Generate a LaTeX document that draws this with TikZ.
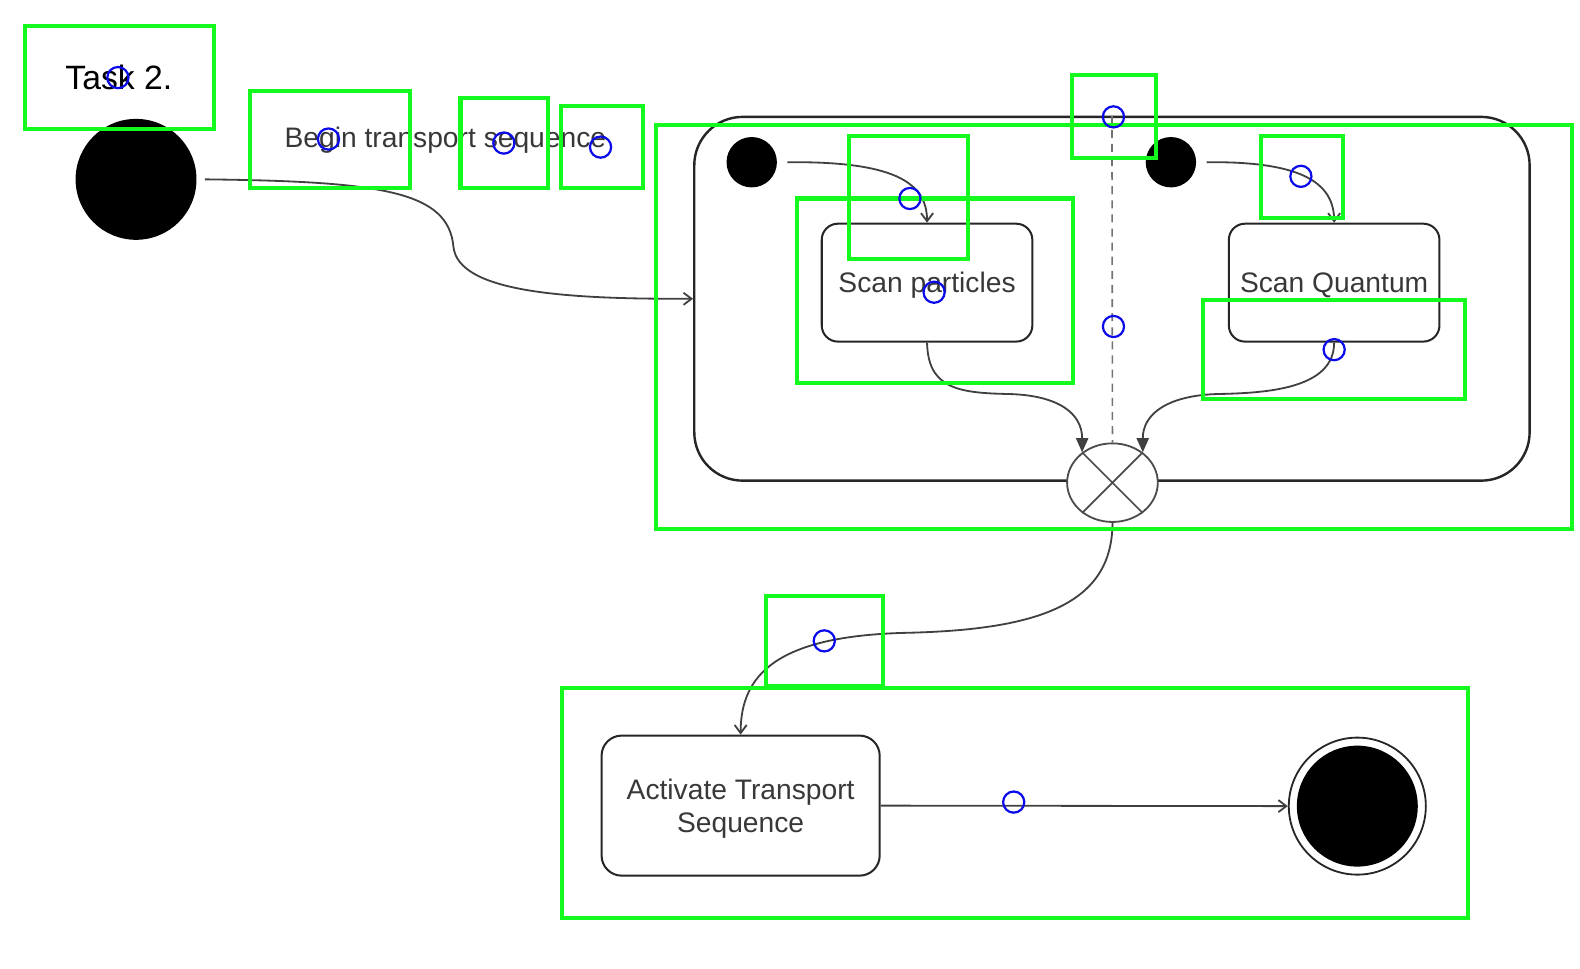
\documentclass[tikz,border=0pt]{standalone}
\usepackage{fontspec}
\setmainfont{Liberation Sans}
\usetikzlibrary{arrows.meta,shapes.geometric}
\definecolor{boxgreen}{RGB}{20,250,30}
\definecolor{markblue}{RGB}{10,10,235}

\begin{document}
\begin{tikzpicture}[x=0.5pt,y=-0.5pt,>={Straight Barb[length=4pt,width=6pt]},
    lbl/.style={font=\fontsize{14}{16.5}\selectfont,text=black!78,align=center},
    dot/.style={circle,fill=black,inner sep=0pt},
    state/.style={draw=black!85,line width=1pt,rounded corners=8pt,
        minimum width=104.5pt,minimum height=58.5pt,lbl,text depth=0pt},
    flow/.style={->,draw=black!75,line width=0.9pt},
    joinflow/.style={-{Triangle[length=7pt,width=6pt]},draw=black!75,line width=0.9pt},
    sync/.style={draw=black!55,line width=0.8pt,dash pattern=on 4pt off 3pt},
    hitbox/.style={draw=boxgreen,line width=2pt},
    hitmark/.style={draw=markblue,line width=1.1pt}]
    \useasboundingbox (0,0) rectangle (1568,961);

    % top level: start, label and the composite state
    \node[font=\fontsize{16.75}{20}\selectfont] (title) at (118,77) {Task 2.};
    \node[dot,minimum size=60pt] (start) at (135,178) {};
    \node[lbl] (beginlbl) at (442,139) {Begin transport sequence};

    \node[draw=black!85,line width=1.2pt,rounded corners=24pt,
        minimum width=414.5pt,minimum height=180.5pt] (transport) at (1103.5,296.5) {};
    \node[dot,minimum size=25pt] (initP) at (746,161) {};
    \node[dot,minimum size=25pt] (initQ) at (1162,161) {};
    \node[state] (scanP) at (920,280.5) {Scan particles};
    \node[state] (scanQ) at (1324,280.5) {Scan Quantum};

    \node[ellipse,draw=black!70,fill=white,line width=0.9pt,inner sep=0pt,
        minimum width=45pt,minimum height=39pt] (join) at (1104,479) {};
    \draw[black!70,line width=0.8pt] (join.45) -- (join.225)
        (join.135) -- (join.315);

    % bottom: activation and final state
    \node[state,minimum width=138pt,minimum height=69.5pt,rounded corners=10pt]
        (activate) at (735,799.5) {Activate Transport\\Sequence};
    \node[circle,draw=black!85,line width=0.9pt,inner sep=0pt,
        minimum size=68pt] (final) at (1347,800) {};
    \node[dot,minimum size=60pt] (finalin) at (final) {};

    % transitions
    \draw[flow] ([xshift=4pt]start.east) .. controls (380,180) and (445,190) ..
        (450,245) .. controls (455,290) and (560,297) .. (transport.west);
    \draw[flow] ([xshift=5pt]initP.east) .. controls (885,160) and (920,180) ..
        (scanP.north);
    \draw[flow] ([xshift=5pt]initQ.east) .. controls (1289,160) and (1324,180) ..
        (scanQ.north);
    \draw[joinflow] (scanP.south) .. controls (921,385) and (950,390) ..
        (1000,391) .. controls (1050,392) and (1074,410) .. (join.135);
    \draw[joinflow] (scanQ.south) .. controls (1324,385) and (1260,390) ..
        (1210,391) .. controls (1160,392) and (1134,410) .. (join.45);
    \draw[sync] (transport.north) -- (join.north);
    \draw[flow] (join.south) .. controls (1104,600) and (1030,625) ..
        (900,628) .. controls (770,631) and (735,670) .. (activate.north);
    \draw[flow] (activate.east) -- (final.west);

    % detection overlay: boxes and marks
    \draw[hitbox] (25,26) rectangle (212,128);
    \draw[hitbox] (248,90) rectangle (407,187);
    \draw[hitbox] (457,97) rectangle (544,187);
    \draw[hitbox] (557,105) rectangle (638,187);
    \draw[hitbox] (651,124) rectangle (1560,525);
    \draw[hitbox] (1064,74) rectangle (1147,157);
    \draw[hitbox] (843,135) rectangle (961,257);
    \draw[hitbox] (791,197) rectangle (1065,380);
    \draw[hitbox] (1251,135) rectangle (1333,216);
    \draw[hitbox] (1194,298) rectangle (1454,396);
    \draw[hitbox] (760,591) rectangle (876,681);
    \draw[hitbox] (558,683) rectangle (1457,911);

    \draw[hitmark] (117,77) circle (10.5);
    \draw[hitmark] (326,138) circle (10.5);
    \draw[hitmark] (500,142) circle (10.5);
    \draw[hitmark] (596,146) circle (10.5);
    \draw[hitmark] (1105,116) circle (10.5);
    \draw[hitmark] (903,197) circle (10.5);
    \draw[hitmark] (927,290) circle (10.5);
    \draw[hitmark] (1105,324) circle (10.5);
    \draw[hitmark] (1291,175) circle (10.5);
    \draw[hitmark] (1324,347) circle (10.5);
    \draw[hitmark] (818,636) circle (10.5);
    \draw[hitmark] (1006,796) circle (10.5);
\end{tikzpicture}
\end{document}
